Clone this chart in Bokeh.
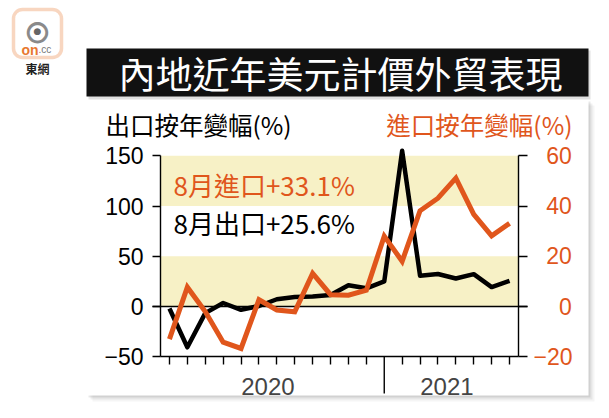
from bokeh.plotting import figure
from bokeh.models import Range1d, LinearAxis, FixedTicker, BoxAnnotation, Label
from bokeh.embed import file_html
from bokeh.resources import INLINE

# ---------------- data ----------------
months = list(range(1, 21))            # Jan 2020 .. Aug 2021
year_labels = ["2020", "2021"]
year_centers = [6.5, 16.5]
year_break = [13]                       # Jan 2021
exports = [-2, -40.6, -6.6, 3.5, -3.3, 0.5, 7.2, 9.5, 9.9, 11.4, 21.1, 18.1,
           24.9, 154.9, 30.6, 32.3, 27.9, 32.2, 19.3, 25.6]
imports = [-13, 7.7, -2, -14.2, -16.7, 2.7, -1.4, -2.1, 13.2, 4.7, 4.5, 6.5,
           28, 18, 38.1, 43.1, 51.1, 36.7, 28.1, 33.1]
left_ticks = [-50, 0, 50, 100, 150]
right_ticks = [-20, 0, 20, 40, 60]
bands = [(100, 150), (0, 50)]

ORANGE = "#E0561C"
YELLOW = "#F7F1C6"
CJK = "Noto Sans CJK TC"
NUM = "Liberation Sans"

# ---------------- layout (canvas pixels -> data) ----------------
W, H = 609, 418
PXX = 17.9            # px per month
LEFT_PX = 160         # pixel of the left axis (month 0.5)
PPU = 201 / 200.0     # px per unit (export axis)
ZERO_PX = 306         # pixel of the zero line
ratio = 0.4           # import axis = export axis * ratio
x_lo, x_hi = months[0] - 0.5, months[-1] + 0.5
x_start = x_lo - LEFT_PX / PXX
x_end = x_start + W / PXX
y_end = ZERO_PX / PPU
y_start = y_end - H / PPU


def dx(px):
    return x_start + px / PXX


def dy(py):
    return y_end - py / PPU


p = figure(width=W, height=H, output_backend="svg", toolbar_location=None, title=None,
           x_range=Range1d(x_start, x_end), y_range=Range1d(y_start, y_end),
           x_axis_type=None, y_axis_type=None,
           min_border_left=0, min_border_right=0, min_border_top=0, min_border_bottom=0)
p.extra_y_ranges = {"imp": Range1d(y_start * ratio, y_end * ratio)}
p.background_fill_color = "white"
p.border_fill_color = "white"
p.outline_line_color = None
p.xgrid.visible = False
p.ygrid.visible = False

# ---------------- panel + shadow ----------------
for off, a in [(6, 0.04), (4, 0.06), (2, 0.09)]:
    p.add_layout(BoxAnnotation(left=dx(86 + off), right=dx(588 + off),
                               top=dy(99 + off), bottom=dy(395 + off),
                               fill_color="black", fill_alpha=a,
                               line_color=None, level="underlay"))
p.add_layout(BoxAnnotation(left=dx(86), right=dx(588), top=dy(99), bottom=dy(395),
                           fill_color="white", fill_alpha=1, line_color=None,
                           level="underlay"))
for lo, hi in bands:
    p.add_layout(BoxAnnotation(left=x_lo, right=x_hi, bottom=lo, top=hi,
                               fill_color=YELLOW, fill_alpha=1,
                               line_color=None, level="underlay"))

# ---------------- axes ----------------
ly = LinearAxis(ticker=FixedTicker(ticks=left_ticks, minor_ticks=[]),
                fixed_location=x_lo,
                bounds=(left_ticks[0], left_ticks[-1]),
                major_tick_in=0, major_tick_out=8, minor_tick_out=0,
                axis_line_width=1.4, major_tick_line_width=1.4,
                major_label_text_font=NUM, major_label_text_font_size="23px",
                major_label_text_color="black", major_label_standoff=9,
                major_label_overrides={t: str(t).replace("-", "\u2212") for t in left_ticks})
p.add_layout(ly, "left")

right_over = {}
for t in right_ticks:
    s = str(t).replace("-", "\u2212")
    right_over[t] = s if t < 0 else "\u2007" * (3 - len(s)) + s
ry = LinearAxis(y_range_name="imp", fixed_location=x_hi,
                ticker=FixedTicker(ticks=right_ticks, minor_ticks=[]),
                bounds=(right_ticks[0], right_ticks[-1]),
                major_tick_in=0, major_tick_out=9, minor_tick_out=0,
                axis_line_width=1.4, major_tick_line_width=1.4,
                major_label_text_font=NUM, major_label_text_font_size="23px",
                major_label_text_color=ORANGE, major_label_standoff=6,
                major_label_overrides=right_over)
p.add_layout(ry, "right")

bx = LinearAxis(fixed_location=left_ticks[0],
                ticker=FixedTicker(ticks=year_centers,
                                   minor_ticks=[m for m in months if m not in year_break]),
                bounds=(x_lo, x_hi),
                major_tick_in=0, major_tick_out=0, minor_tick_in=0, minor_tick_out=8,
                axis_line_width=1.4, minor_tick_line_width=1.4,
                major_label_text_font=NUM, major_label_text_font_size="24px",
                major_label_standoff=13,
                major_label_overrides=dict(zip(year_centers, year_labels)))
p.add_layout(bx, "below")

# year separator (long tick) and zero line
p.segment(x0=year_break, y0=[left_ticks[0]] * len(year_break),
          x1=year_break, y1=[dy(393)] * len(year_break),
          line_color="black", line_width=1.4)
p.segment(x0=[dx(152)], y0=[0], x1=[dx(527)], y1=[0], line_color="black", line_width=1.4)

# ---------------- lines ----------------
p.line(months, exports, line_color="black", line_width=4.5, line_join="round")
p.line(months, imports, y_range_name="imp", line_color=ORANGE, line_width=5,
       line_join="miter")

# ---------------- annotations ----------------
p.add_layout(Label(x=dx(173), y=dy(184), text=f"8月進口+{imports[-1]}%",
                   text_color=ORANGE, text_font=CJK, text_font_size="26px",
                   text_baseline="middle", text_align="left"))
p.add_layout(Label(x=dx(173), y=dy(222), text=f"8月出口+{exports[-1]}%",
                   text_color="black", text_font=CJK, text_font_size="26px",
                   text_baseline="middle", text_align="left"))

p.add_layout(Label(x=dx(105), y=dy(124), text="出口按年變幅(%)", text_color="black",
                   text_font=CJK, text_font_size="24.5px",
                   text_baseline="middle", text_align="left"))
p.add_layout(Label(x=dx(572), y=dy(124), text="進口按年變幅(%)", text_color=ORANGE,
                   text_font=CJK, text_font_size="24.5px",
                   text_baseline="middle", text_align="right"))

# ---------------- title bar ----------------
p.add_layout(BoxAnnotation(left=dx(88), right=dx(590), top=dy(50), bottom=dy(99),
                           fill_color="black", fill_alpha=0.12, line_color=None))
p.add_layout(BoxAnnotation(left=dx(86), right=dx(588), top=dy(48), bottom=dy(96),
                           fill_color="#111111", fill_alpha=1, line_color=None))
p.add_layout(Label(x=dx(340), y=dy(72), text="內地近年美元計價外貿表現", text_color="white",
                   text_font=CJK, text_font_size="37px",
                   text_baseline="middle", text_align="center"))

# ---------------- logo ----------------
p.add_layout(BoxAnnotation(left=dx(13), right=dx(61), top=dy(9), bottom=dy(57),
                           fill_color="white", fill_alpha=1, line_color="#E8782F",
                           line_width=3.5, border_radius=9))
p.add_layout(Label(x=dx(37), y=dy(30), text="●", text_color="#8a8a8a", text_font="DejaVu Sans",
                   text_font_size="28px", text_baseline="middle", text_align="center"))
p.add_layout(Label(x=dx(37), y=dy(30), text="●", text_color="white", text_font="DejaVu Sans",
                   text_font_size="20px", text_baseline="middle", text_align="center"))
p.add_layout(Label(x=dx(37), y=dy(30), text="●", text_color="#666666", text_font="DejaVu Sans",
                   text_font_size="9px", text_baseline="middle", text_align="center"))
p.add_layout(Label(x=dx(38), y=dy(49), text="on", text_color="#E8782F", text_font=NUM,
                   text_font_style="bold", text_font_size="14px",
                   text_baseline="middle", text_align="right"))
p.add_layout(Label(x=dx(38), y=dy(49), text=".cc", text_color="#777777", text_font=NUM,
                   text_font_size="10px", text_baseline="middle", text_align="left"))
p.add_layout(Label(x=dx(37), y=dy(68), text="東網", text_color="#222222", text_font=CJK,
                   text_font_style="bold", text_font_size="12px",
                   text_baseline="middle", text_align="center"))

open("out.html", "w").write(file_html(p, INLINE))
